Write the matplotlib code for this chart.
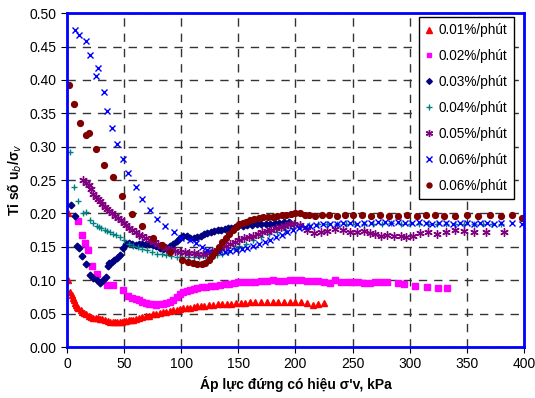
import matplotlib.pyplot as plt
from matplotlib.ticker import FormatStrFormatter, MultipleLocator

plt.rcParams["font.family"] = ["Liberation Sans", "DejaVu Sans"]

# 0.01%/phút
x1 = [1, 1, 3, 4, 5, 6, 7, 8, 9, 10,
      12, 13, 15, 17, 19, 21, 23, 25, 27, 29,
      31, 33, 36, 38, 40, 42, 44, 46, 48, 50,
      52, 54, 56, 58, 60, 63, 66, 69, 72, 75,
      78, 81, 84, 87, 90, 93, 96, 99, 102, 105,
      108, 111, 114, 117, 120, 124, 128, 132, 136, 140,
      144, 148, 152, 156, 160, 165, 170, 175, 180, 185,
      190, 195, 200, 205, 210, 215, 220, 225]
y1 = [0.200, 0.100, 0.082, 0.078, 0.074, 0.070, 0.066, 0.063, 0.060, 0.058,
      0.055, 0.053, 0.051, 0.049, 0.047, 0.045, 0.044, 0.043, 0.043, 0.042,
      0.042, 0.041, 0.039, 0.038, 0.038, 0.038, 0.038, 0.038, 0.038, 0.039,
      0.039, 0.040, 0.040, 0.041, 0.042, 0.043, 0.045, 0.046, 0.047, 0.049,
      0.050, 0.051, 0.052, 0.053, 0.054, 0.055, 0.056, 0.057, 0.058, 0.059,
      0.059, 0.060, 0.061, 0.061, 0.062, 0.063, 0.063, 0.064, 0.064, 0.065,
      0.065, 0.066, 0.066, 0.066, 0.067, 0.067, 0.067, 0.067, 0.067, 0.067,
      0.067, 0.067, 0.067, 0.068, 0.066, 0.063, 0.064, 0.066]

# 0.02%/phút
x2 = [10, 13, 16, 18, 22, 26, 35, 40, 49, 53,
      57, 60, 63, 66, 69, 72, 75, 78, 81, 84,
      87, 90, 93, 96, 99, 102, 105, 108, 111, 114,
      118, 122, 126, 130, 134, 138, 142, 146, 150, 155,
      160, 165, 170, 175, 180, 185, 190, 195, 200, 205,
      210, 215, 220, 225, 230, 235, 240, 245, 250, 255,
      260, 265, 270, 275, 280, 290, 295, 305, 315, 325,
      333]
y2 = [0.189, 0.168, 0.156, 0.145, 0.121, 0.109, 0.093, 0.093, 0.085, 0.076,
      0.073, 0.072, 0.070, 0.068, 0.066, 0.065, 0.064, 0.063, 0.064, 0.065,
      0.066, 0.068, 0.071, 0.075, 0.080, 0.082, 0.084, 0.086, 0.087, 0.089,
      0.090, 0.090, 0.091, 0.092, 0.093, 0.094, 0.095, 0.096, 0.097, 0.097,
      0.098, 0.098, 0.099, 0.099, 0.100, 0.099, 0.099, 0.100, 0.100, 0.100,
      0.099, 0.099, 0.099, 0.098, 0.096, 0.100, 0.098, 0.098, 0.097, 0.098,
      0.096, 0.096, 0.098, 0.097, 0.097, 0.096, 0.095, 0.092, 0.090, 0.089,
      0.089]

# 0.03%/phút
x3 = [3.5, 6.7, 9, 10.5, 13, 16.5, 20, 23, 26, 29,
      31.5, 34, 35.5, 37, 39, 41, 43.5, 46, 49, 51.5,
      54, 57, 60, 63, 66, 69, 72, 75, 78, 81,
      84, 87, 90, 93, 96, 99, 102, 105, 108, 111,
      114, 117, 120, 123, 126, 129, 132, 135, 138, 141,
      144, 147, 150, 154, 158, 162, 166, 170, 174, 178,
      182, 186, 190, 194]
y3 = [0.213, 0.196, 0.152, 0.149, 0.137, 0.125, 0.108, 0.104, 0.101, 0.096,
      0.100, 0.105, 0.122, 0.126, 0.128, 0.131, 0.133, 0.138, 0.148, 0.155,
      0.156, 0.155, 0.153, 0.155, 0.155, 0.154, 0.154, 0.153, 0.151, 0.149,
      0.147, 0.148, 0.152, 0.155, 0.159, 0.163, 0.166, 0.166, 0.164, 0.163,
      0.165, 0.167, 0.169, 0.171, 0.172, 0.174, 0.175, 0.176, 0.177, 0.178,
      0.179, 0.180, 0.181, 0.182, 0.183, 0.183, 0.184, 0.184, 0.185, 0.185,
      0.186, 0.186, 0.187, 0.188]

# 0.04%/phút
x4 = [2.6, 6.4, 10, 14, 17, 20, 23, 26, 28, 30,
      33, 35, 38, 40.5, 43, 46, 50, 54, 58, 62,
      66, 70, 74, 79, 83, 87, 91, 96, 101, 106,
      111, 116, 121, 126, 131, 136, 141, 146, 151, 157,
      163, 170, 177, 184, 191, 198, 205, 212, 220, 228,
      236, 244, 252, 260, 268, 276, 284, 292, 300, 308,
      316, 324, 332, 340, 348, 356, 364, 372, 380]
y4 = [0.292, 0.239, 0.218, 0.201, 0.202, 0.190, 0.186, 0.182, 0.180, 0.178,
      0.176, 0.174, 0.172, 0.170, 0.168, 0.165, 0.160, 0.154, 0.152, 0.150,
      0.147, 0.145, 0.143, 0.140, 0.139, 0.138, 0.137, 0.135, 0.135, 0.135,
      0.135, 0.135, 0.136, 0.137, 0.138, 0.140, 0.143, 0.148, 0.152, 0.155,
      0.160, 0.165, 0.170, 0.173, 0.176, 0.179, 0.181, 0.183, 0.184, 0.184,
      0.185, 0.184, 0.185, 0.185, 0.184, 0.185, 0.186, 0.185, 0.184, 0.185,
      0.184, 0.185, 0.185, 0.184, 0.185, 0.184, 0.185, 0.184, 0.185]

# 0.05%/phút
x5 = [14.3, 16.5, 19, 21, 23, 25, 27, 29, 31, 33,
      35, 37, 39.5, 42, 44.5, 47, 49.5, 52, 54.5, 57,
      60, 63, 66, 69, 72.5, 76, 79.5, 83, 87, 91,
      95, 99, 103, 107, 111, 115, 119, 123, 127, 131,
      135, 139, 143, 147, 151, 155, 159, 163, 167, 171,
      175, 179, 183, 187, 191, 195, 199, 204, 210, 216,
      222, 228, 235, 242, 248, 254, 260, 265, 270, 275,
      280, 286, 292, 297, 303, 309, 316, 324, 332, 340,
      348, 356, 367, 383]
y5 = [0.250, 0.246, 0.242, 0.237, 0.229, 0.225, 0.222, 0.218, 0.214, 0.210,
      0.206, 0.203, 0.200, 0.196, 0.193, 0.190, 0.186, 0.183, 0.179, 0.175,
      0.172, 0.168, 0.166, 0.163, 0.161, 0.158, 0.155, 0.152, 0.148, 0.146,
      0.144, 0.143, 0.142, 0.141, 0.141, 0.140, 0.140, 0.141, 0.143, 0.146,
      0.149, 0.152, 0.155, 0.158, 0.160, 0.163, 0.165, 0.167, 0.169, 0.172,
      0.174, 0.176, 0.178, 0.180, 0.182, 0.184, 0.185, 0.183, 0.176, 0.171,
      0.172, 0.174, 0.177, 0.175, 0.173, 0.172, 0.174, 0.171, 0.169, 0.167,
      0.168, 0.166, 0.166, 0.165, 0.167, 0.171, 0.172, 0.170, 0.173, 0.176,
      0.174, 0.173, 0.173, 0.173]

# 0.06%/phút (x)
x6 = [7, 10.5, 17, 20, 27, 25, 32, 35, 39, 44,
      49, 53, 60, 66, 73, 79, 85.5, 93.5, 100, 108,
      113, 118, 123, 128, 133, 138, 143, 148, 153, 158,
      163, 168, 173, 178, 183, 188, 193, 198, 203, 208,
      213, 218, 224, 230, 236, 242, 248, 254, 260, 266,
      272, 278, 284, 290, 296, 302, 308, 314, 320, 326,
      332, 338, 344, 350, 356, 362, 368, 374, 380, 390,
      398]
y6 = [0.475, 0.468, 0.459, 0.438, 0.418, 0.406, 0.382, 0.353, 0.328, 0.304,
      0.282, 0.261, 0.239, 0.222, 0.205, 0.191, 0.181, 0.173, 0.164, 0.160,
      0.156, 0.150, 0.146, 0.143, 0.142, 0.143, 0.144, 0.145, 0.147, 0.149,
      0.152, 0.155, 0.158, 0.161, 0.165, 0.168, 0.172, 0.175, 0.178, 0.180,
      0.182, 0.183, 0.184, 0.184, 0.185, 0.186, 0.186, 0.185, 0.186, 0.186,
      0.187, 0.187, 0.186, 0.187, 0.186, 0.186, 0.187, 0.186, 0.185, 0.186,
      0.186, 0.185, 0.186, 0.186, 0.185, 0.186, 0.186, 0.185, 0.186, 0.186,
      0.185]

# 0.06%/phút (o)
x7 = [1.5, 5.8, 11.7, 16.3, 19.5, 25.7, 32.4, 40, 48, 56.6,
      66, 75.5, 83, 90, 101, 106, 110, 114, 118, 121,
      124, 127, 130, 133, 136, 139, 142, 145, 148, 151,
      154, 157, 160, 164, 168, 172, 176, 180, 184, 188,
      192, 196, 200, 204, 208, 212, 217, 223, 229, 236,
      243, 250, 258, 266, 274, 282, 290, 298, 306, 314,
      322, 330, 340, 350, 360, 370, 380, 390, 398]
y7 = [0.393, 0.364, 0.336, 0.318, 0.320, 0.297, 0.273, 0.254, 0.226, 0.199,
      0.181, 0.163, 0.153, 0.143, 0.130, 0.127, 0.126, 0.125, 0.125, 0.126,
      0.130, 0.136, 0.143, 0.150, 0.157, 0.164, 0.170, 0.175, 0.180, 0.184,
      0.186, 0.188, 0.190, 0.192, 0.193, 0.194, 0.195, 0.195, 0.196, 0.197,
      0.198, 0.199, 0.201, 0.200, 0.198, 0.197, 0.196, 0.198, 0.197, 0.196,
      0.198, 0.197, 0.197, 0.196, 0.197, 0.196, 0.196, 0.197, 0.196, 0.198,
      0.197, 0.196, 0.196, 0.197, 0.196, 0.197, 0.196, 0.197, 0.193]

nhan = ["0.01%/phút", "0.02%/phút", "0.03%/phút", "0.04%/phút",
        "0.05%/phút", "0.06%/phút", "0.06%/phút"]

fig = plt.figure(figsize=(5.35, 3.98), dpi=100)
ax = fig.add_axes([0.1252, 0.128, 0.854, 0.839])

ax.plot(x1, y1, ls="none", marker="^", ms=4.3, color="#FF0000", mec="#FF0000", label=nhan[0])
ax.plot(x2, y2, ls="none", marker="s", ms=3.8, color="#FF00FF", mec="#FF00FF", label=nhan[1])
ax.plot(x3, y3, ls="none", marker="D", ms=3.4, color="#000080", mec="#000080", label=nhan[2])
ax.plot(x4, y4, ls="none", marker="+", ms=5, mew=1.0, color="#008080", label=nhan[3])
ax.plot(x5, y5, ls="none", marker=(6, 2, 0), ms=6, mew=1.0, color="#800080", label=nhan[4])
ax.plot(x6, y6, ls="none", marker="x", ms=4.6, mew=1.0, color="#0000FF", label=nhan[5])
ax.plot(x7, y7, ls="none", marker="o", ms=4.2, color="#800000", mec="#800000", label=nhan[6])

ax.set_xlim(0, 400)
ax.set_ylim(0, 0.5)
ax.xaxis.set_major_locator(MultipleLocator(50))
ax.yaxis.set_major_locator(MultipleLocator(0.05))
ax.yaxis.set_major_formatter(FormatStrFormatter("%.2f"))

ax.grid(True, color="#333333", linestyle=(0, (6, 5)), linewidth=1)
ax.set_axisbelow(True)

for lado in ["left", "right", "top", "bottom"]:
    ax.spines[lado].set_color("#0000FF")
    ax.spines[lado].set_linewidth(2)

ax.tick_params(axis="both", direction="out", length=4, labelsize=10, colors="black")

ax.set_xlabel("Áp lực đứng có hiệu σ'v, kPa", fontsize=10, fontweight="bold", labelpad=3)
ax.set_ylabel("Tỉ số u$_b$/σ$_v$", fontsize=10, fontweight="bold", labelpad=4)

leg = ax.legend(loc="upper right", bbox_to_anchor=(0.978, 0.988), borderaxespad=0,
                fontsize=9.8, frameon=True, fancybox=False, framealpha=1,
                edgecolor="black", handlelength=0.6, handletextpad=0.4,
                markerscale=0.85, labelspacing=0.88, borderpad=0.45)
leg.get_frame().set_linewidth(1)

fig.savefig("out.png", dpi=100)
